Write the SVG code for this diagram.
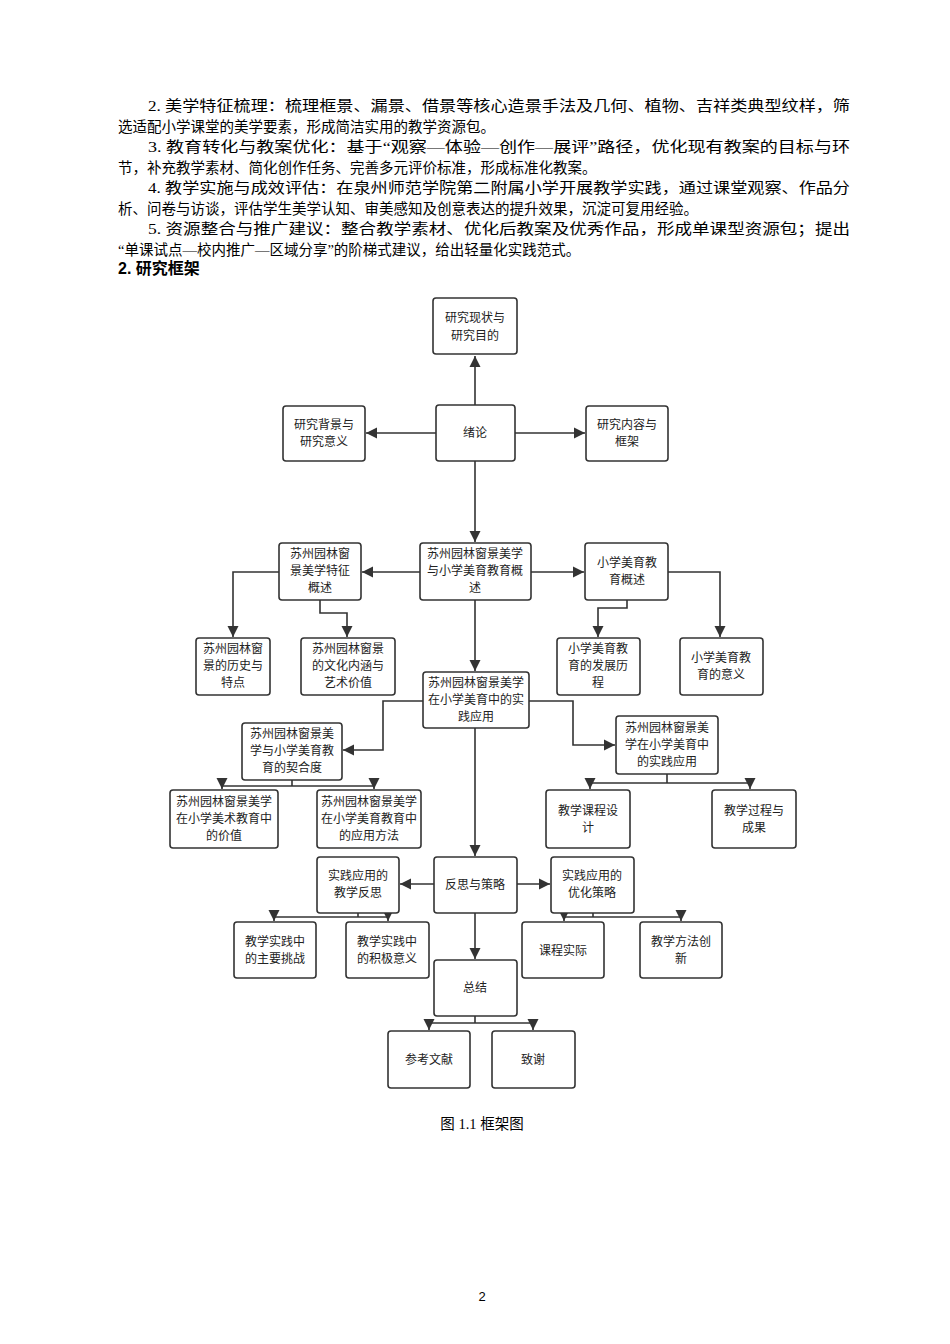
<svg xmlns="http://www.w3.org/2000/svg" width="950" height="1344" viewBox="0 0 950 1344">
<style>
.p{font-family:"Liberation Serif","Noto Sans CJK SC",serif;font-size:14.5px;fill:#000}
.b rect{fill:#fff;stroke:#333;stroke-width:1.6}
.b text{font-family:"Noto Sans CJK SC","Liberation Sans",sans-serif;font-size:12px;fill:#222;text-anchor:middle}
#edges path{fill:none;stroke:#333;stroke-width:1.6}
</style>
<defs><marker id="a" viewBox="0 0 10 10" refX="10" refY="5" markerWidth="7" markerHeight="7" orient="auto"><path d="M0,0L10,5L0,10z" fill="#333"/></marker></defs>
<rect width="950" height="1344" fill="#fff"/>
<g class="p">
<text x="148" y="111" textLength="702" lengthAdjust="spacingAndGlyphs">2. 美学特征梳理：梳理框景、漏景、借景等核心造景手法及几何、植物、吉祥类典型纹样，筛</text>
<text x="118" y="131.5">选适配小学课堂的美学要素，形成简洁实用的教学资源包。</text>
<text x="148" y="152" textLength="702" lengthAdjust="spacingAndGlyphs">3. 教育转化与教案优化：基于“观察—体验—创作—展评”路径，优化现有教案的目标与环</text>
<text x="118" y="172.5">节，补充教学素材、简化创作任务、完善多元评价标准，形成标准化教案。</text>
<text x="148" y="193" textLength="702" lengthAdjust="spacingAndGlyphs">4. 教学实施与成效评估：在泉州师范学院第二附属小学开展教学实践，通过课堂观察、作品分</text>
<text x="118" y="213.5">析、问卷与访谈，评估学生美学认知、审美感知及创意表达的提升效果，沉淀可复用经验。</text>
<text x="148" y="234" textLength="702" lengthAdjust="spacingAndGlyphs">5. 资源整合与推广建议：整合教学素材、优化后教案及优秀作品，形成单课型资源包；提出</text>
<text x="118" y="254.5">“单课试点—校内推广—区域分享”的阶梯式建议，给出轻量化实践范式。</text>
<text x="118" y="274" style="font-family:'Liberation Sans','Noto Sans CJK SC',sans-serif;font-size:16px;font-weight:bold">2. 研究框架</text>
<text x="482" y="1129" text-anchor="middle">图 1.1 框架图</text>
<text x="482" y="1301" text-anchor="middle" style="font-family:'Liberation Sans',sans-serif;font-size:13px">2</text>
</g>
<g id="edges">
<path d="M475,405V356" marker-end="url(#a)"/>
<path d="M436,433H366" marker-end="url(#a)"/>
<path d="M515,433H585" marker-end="url(#a)"/>
<path d="M475,461V542" marker-end="url(#a)"/>
<path d="M420,572H362" marker-end="url(#a)"/>
<path d="M531,572H584" marker-end="url(#a)"/>
<path d="M279,572H233V637" marker-end="url(#a)"/>
<path d="M320,600V613H347V637" marker-end="url(#a)"/>
<path d="M627,600V608H598V637" marker-end="url(#a)"/>
<path d="M668,572H720V637" marker-end="url(#a)"/>
<path d="M475,600V671" marker-end="url(#a)"/>
<path d="M423,701H383V750H343" marker-end="url(#a)"/>
<path d="M529,701H573V745H615" marker-end="url(#a)"/>
<path d="M292,780V786"/>
<path d="M222,786H374"/>
<path d="M222,786V789" marker-end="url(#a)"/>
<path d="M374,786V789" marker-end="url(#a)"/>
<path d="M667,774V783"/>
<path d="M590,783H750"/>
<path d="M590,783V789" marker-end="url(#a)"/>
<path d="M750,783V789" marker-end="url(#a)"/>
<path d="M475,728V856" marker-end="url(#a)"/>
<path d="M434,884H400" marker-end="url(#a)"/>
<path d="M517,884H550" marker-end="url(#a)"/>
<path d="M358,913V917"/>
<path d="M274,917H388"/>
<path d="M274,917V921" marker-end="url(#a)"/>
<path d="M388,917V921" marker-end="url(#a)"/>
<path d="M593,913V917"/>
<path d="M564,917H681"/>
<path d="M564,917V921" marker-end="url(#a)"/>
<path d="M681,917V921" marker-end="url(#a)"/>
<path d="M475,913V959" marker-end="url(#a)"/>
<path d="M475,1016V1023"/>
<path d="M429,1023H533"/>
<path d="M429,1023V1030" marker-end="url(#a)"/>
<path d="M533,1023V1030" marker-end="url(#a)"/>
</g>
<g class="b">
<g id="n1"><rect x="433" y="298" width="84" height="56" rx="3"/><text x="475" y="322">研究现状与</text><text x="475" y="340">研究目的</text></g>
<g id="n2"><rect x="436" y="405" width="79" height="56" rx="3"/><text x="475" y="437">绪论</text></g>
<g id="n3"><rect x="283" y="406" width="82" height="55" rx="3"/><text x="324" y="429">研究背景与</text><text x="324" y="446">研究意义</text></g>
<g id="n4"><rect x="586" y="406" width="82" height="55" rx="3"/><text x="627" y="429">研究内容与</text><text x="627" y="446">框架</text></g>
<g id="n5"><rect x="279" y="543" width="82" height="57" rx="3"/><text x="320" y="558">苏州园林窗</text><text x="320" y="575">景美学特征</text><text x="320" y="592">概述</text></g>
<g id="n6"><rect x="420" y="543" width="111" height="57" rx="3"/><text x="475" y="558">苏州园林窗景美学</text><text x="475" y="575">与小学美育教育概</text><text x="475" y="592">述</text></g>
<g id="n7"><rect x="585" y="543" width="83" height="57" rx="3"/><text x="627" y="567">小学美育教</text><text x="627" y="584">育概述</text></g>
<g id="n8"><rect x="196" y="638" width="74" height="57" rx="3"/><text x="233" y="653">苏州园林窗</text><text x="233" y="670">景的历史与</text><text x="233" y="687">特点</text></g>
<g id="n9"><rect x="301" y="638" width="94" height="57" rx="3"/><text x="348" y="653">苏州园林窗景</text><text x="348" y="670">的文化内涵与</text><text x="348" y="687">艺术价值</text></g>
<g id="n10"><rect x="557" y="638" width="83" height="57" rx="3"/><text x="598" y="653">小学美育教</text><text x="598" y="670">育的发展历</text><text x="598" y="687">程</text></g>
<g id="n11"><rect x="680" y="638" width="83" height="57" rx="3"/><text x="721" y="662">小学美育教</text><text x="721" y="679">育的意义</text></g>
<g id="n12"><rect x="423" y="672" width="106" height="56" rx="3"/><text x="476" y="687">苏州园林窗景美学</text><text x="476" y="704">在小学美育中的实</text><text x="476" y="721">践应用</text></g>
<g id="n13"><rect x="242" y="723" width="100" height="57" rx="3"/><text x="292" y="738">苏州园林窗景美</text><text x="292" y="755">学与小学美育教</text><text x="292" y="772">育的契合度</text></g>
<g id="n14"><rect x="616" y="716" width="102" height="58" rx="3"/><text x="667" y="732">苏州园林窗景美</text><text x="667" y="749">学在小学美育中</text><text x="667" y="766">的实践应用</text></g>
<g id="n15"><rect x="170" y="790" width="108" height="58" rx="3"/><text x="224" y="806">苏州园林窗景美学</text><text x="224" y="823">在小学美术教育中</text><text x="224" y="840">的价值</text></g>
<g id="n16"><rect x="317" y="790" width="104" height="58" rx="3"/><text x="369" y="806">苏州园林窗景美学</text><text x="369" y="823">在小学美育教育中</text><text x="369" y="840">的应用方法</text></g>
<g id="n17"><rect x="546" y="790" width="84" height="58" rx="3"/><text x="588" y="815">教学课程设</text><text x="588" y="832">计</text></g>
<g id="n18"><rect x="712" y="790" width="84" height="58" rx="3"/><text x="754" y="815">教学过程与</text><text x="754" y="832">成果</text></g>
<g id="n19"><rect x="434" y="857" width="83" height="56" rx="3"/><text x="475" y="889">反思与策略</text></g>
<g id="n20"><rect x="317" y="857" width="82" height="56" rx="3"/><text x="358" y="880">实践应用的</text><text x="358" y="897">教学反思</text></g>
<g id="n21"><rect x="551" y="857" width="83" height="56" rx="3"/><text x="592" y="880">实践应用的</text><text x="592" y="897">优化策略</text></g>
<g id="n22"><rect x="234" y="922" width="82" height="56" rx="3"/><text x="275" y="946">教学实践中</text><text x="275" y="963">的主要挑战</text></g>
<g id="n23"><rect x="346" y="922" width="83" height="56" rx="3"/><text x="387" y="946">教学实践中</text><text x="387" y="963">的积极意义</text></g>
<g id="n24"><rect x="522" y="922" width="82" height="56" rx="3"/><text x="563" y="955">课程实际</text></g>
<g id="n25"><rect x="640" y="922" width="82" height="56" rx="3"/><text x="681" y="946">教学方法创</text><text x="681" y="963">新</text></g>
<g id="n26"><rect x="434" y="960" width="83" height="56" rx="3"/><text x="475" y="992">总结</text></g>
<g id="n27"><rect x="388" y="1031" width="82" height="57" rx="3"/><text x="429" y="1064">参考文献</text></g>
<g id="n28"><rect x="492" y="1031" width="83" height="57" rx="3"/><text x="533" y="1064">致谢</text></g>
</g>
</svg>
